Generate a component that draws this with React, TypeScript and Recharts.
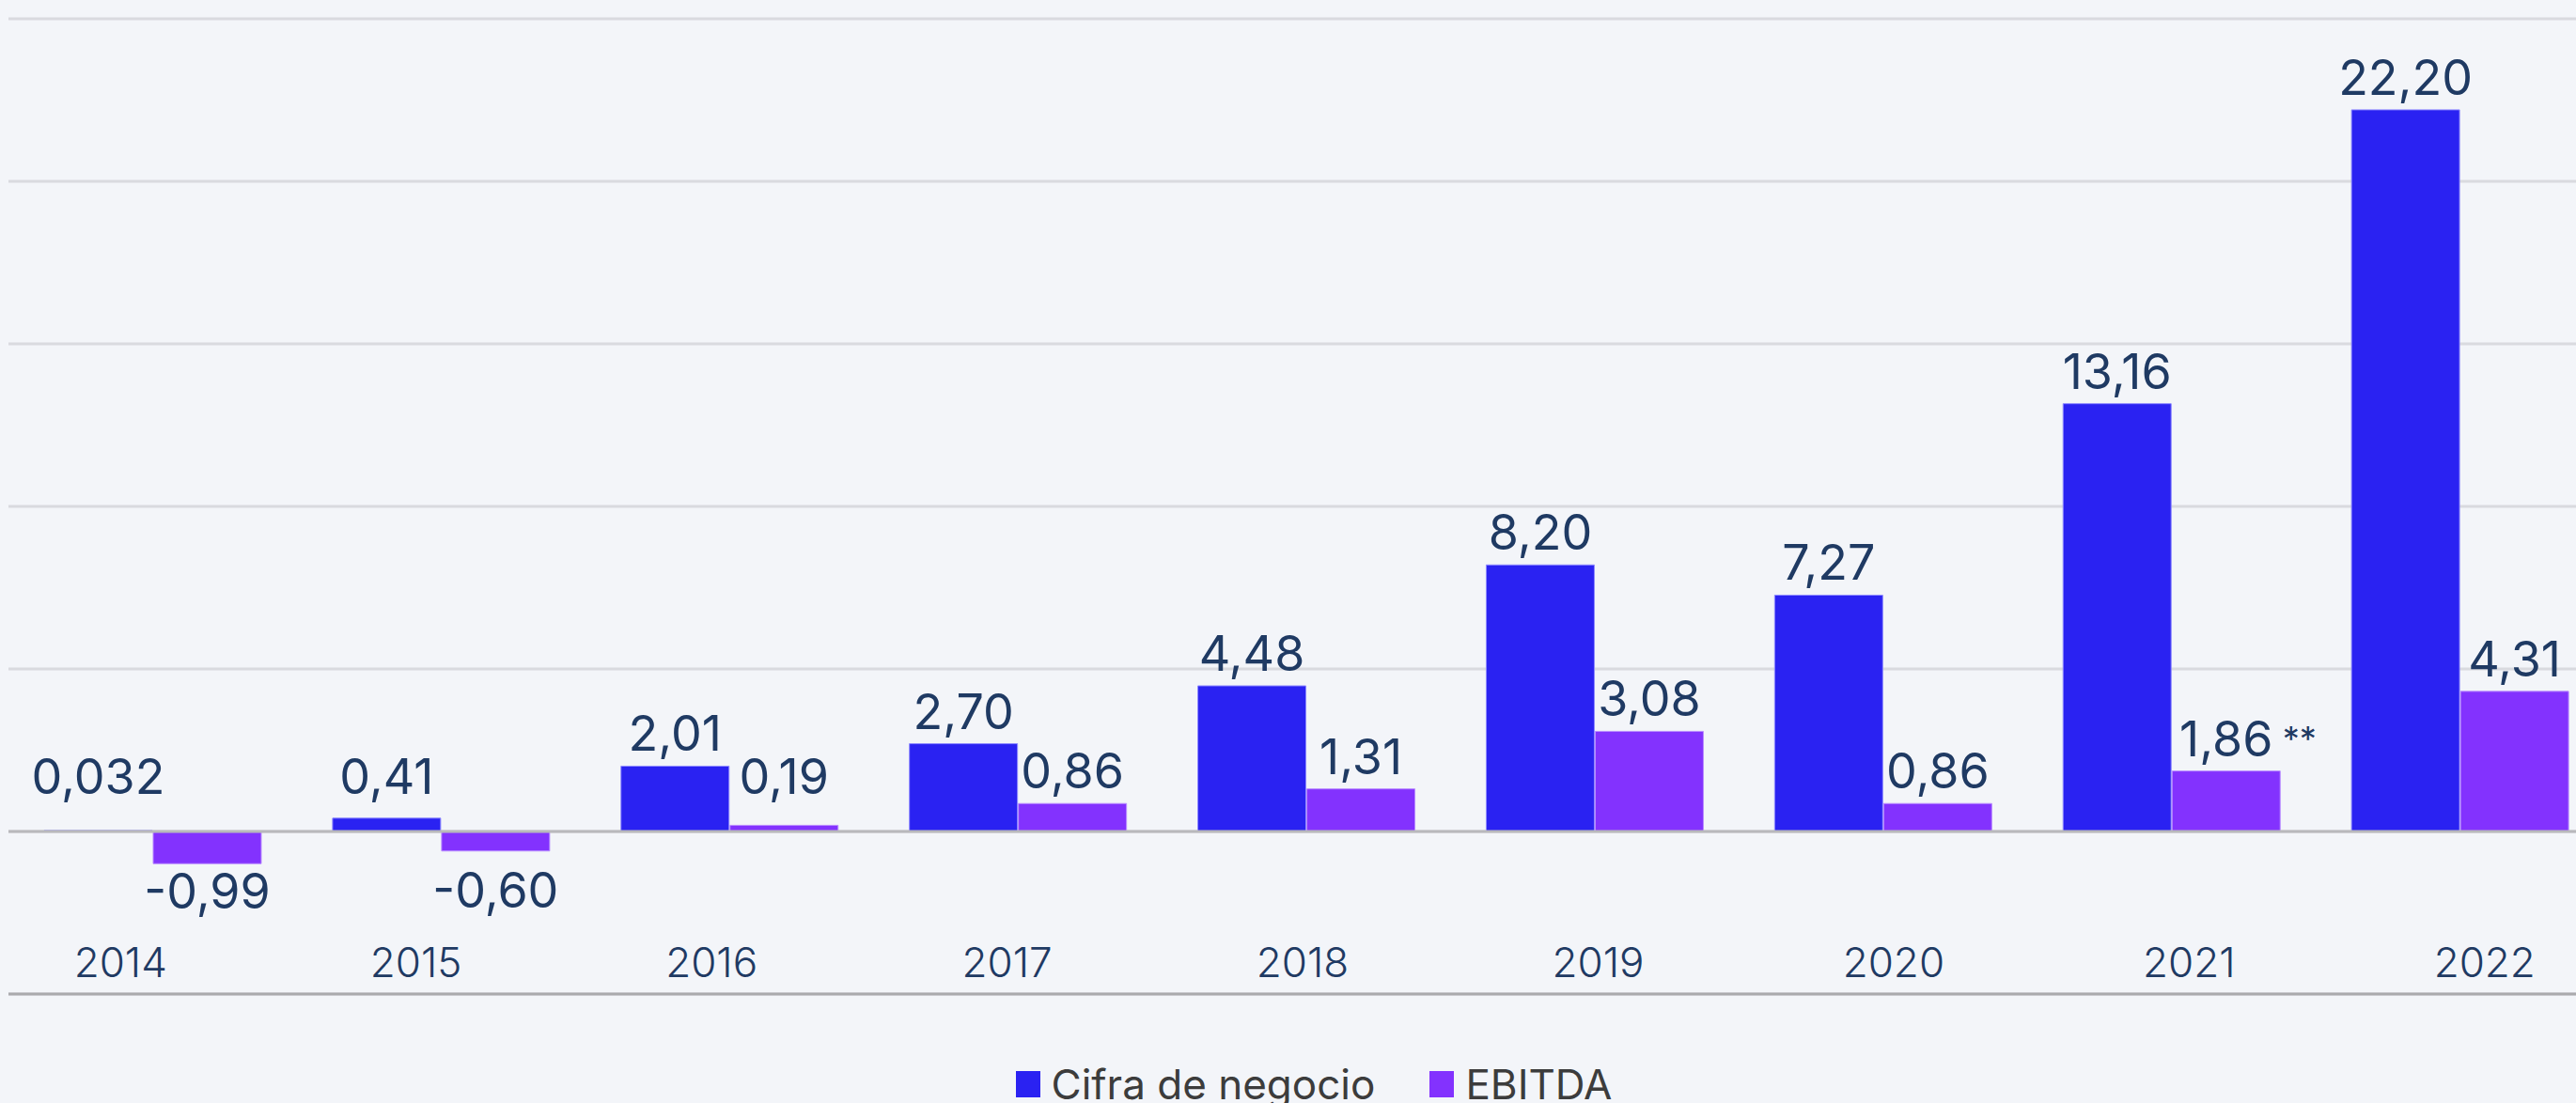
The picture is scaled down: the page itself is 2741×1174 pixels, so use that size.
import React from "react";
import {
  BarChart,
  Bar,
  XAxis,
  YAxis,
  CartesianGrid,
  ReferenceLine,
  Legend,
} from "recharts";

const years = ["2014", "2015", "2016", "2017", "2018", "2019", "2020", "2021", "2022"];
const cifraNegocio = [0.032, 0.41, 2.01, 2.7, 4.48, 8.2, 7.27, 13.16, 22.2];
const ebitda = [-0.99, -0.6, 0.19, 0.86, 1.31, 3.08, 0.86, 1.86, 4.31];
const ebitdaNotes = ["", "", "", "", "", "", "", "**", ""];
const yTicks = [-5, 0, 5, 10, 15, 20, 25];

const BLUE = "#2a22f2";
const PURPLE = "#8332fe";
const NAVY = "#1f3a63";
const FONT = "Inter, 'Open Sans', sans-serif";

const data = years.map((year, i) => ({
  year,
  cifra: cifraNegocio[i],
  ebitda: ebitda[i],
}));

const fmt = (v: number) =>
  (Math.abs(v) < 0.1 ? v.toFixed(3) : v.toFixed(2)).replace(".", ",");

// value labels: kept a bit clear of the zero line for small bars
const makeLabel = (values: number[], notes?: string[]) => (props: any) => {
  const vb = props.viewBox && props.viewBox.width !== undefined ? props.viewBox : props;
  const { x, y, width, height } = vb;
  const i = props.index;
  const v = values[i];
  const top = Math.min(y, y + height);
  const bottom = Math.max(y, y + height);
  const cx = x + width / 2;
  let baseline;
  if (v >= 0) {
    baseline = Math.min(top - 16, bottom - 40);
  } else {
    baseline = Math.max(bottom + 10, top + 43) + 38;
  }
  const note = notes ? notes[i] : "";
  return (
    <g>
      <text
        x={cx}
        y={baseline}
        textAnchor="middle"
        fill={NAVY}
        fontSize={52}
        fontFamily={FONT}
      >
        {fmt(v)}
      </text>
      {note && (
        <text
          x={cx + 60}
          y={baseline - 6}
          textAnchor="start"
          fill={NAVY}
          fontSize={36}
          fontFamily={FONT}
        >
          {note}
        </text>
      )}
    </g>
  );
};

const renderLegend = () => (
  <div
    style={{
      height: 116,
      width: "100%",
      display: "flex",
      justifyContent: "center",
      alignItems: "flex-start",
      paddingTop: 74,
      boxSizing: "border-box",
      fontFamily: FONT,
      fontSize: 44,
      color: "#3c3c3c",
    }}
  >
    {[
      { name: "Cifra de negocio", color: BLUE },
      { name: "EBITDA", color: PURPLE },
    ].map((item, idx) => (
      <div
        key={item.name}
        style={{
          display: "flex",
          alignItems: "center",
          height: 44,
          marginLeft: idx === 0 ? 0 : 58,
          whiteSpace: "nowrap",
        }}
      >
        <span
          style={{
            display: "inline-block",
            width: 26,
            height: 28,
            background: item.color,
            marginRight: 12,
          }}
        />
        <span>{item.name}</span>
      </div>
    ))}
  </div>
);

export default function App() {
  return (
    <div
      style={{
        position: "absolute",
        left: 0,
        top: 0,
        width: 2741,
        height: 1174,
        overflow: "hidden",
        background: "#f3f5f9",
      }}
    >
      <BarChart
        width={2796}
        height={1174}
        data={data}
        margin={{ top: 20, right: 25, left: 9, bottom: 0 }}
        barSize={115}
        barGap={1}
      >
        <CartesianGrid
          vertical={false}
          stroke="#d9dadf"
          strokeWidth={3}
        />
        <XAxis dataKey="year" hide />
        <XAxis
          xAxisId="lbl"
          dataKey="year"
          mirror
          padding={{ left: -38, right: -30 }}
          axisLine={{ stroke: "#aaaaad", strokeWidth: 3 }}
          tickLine={false}
          tickSize={0}
          tickMargin={18}
          interval={0}
          tick={{ fill: NAVY, fontSize: 44, fontWeight: 300, fontFamily: FONT }}
        />
        <YAxis hide domain={[-5, 25]} ticks={yTicks} />
        <ReferenceLine y={0} stroke="#b9b9bc" strokeWidth={3} />
        <Legend
          verticalAlign="bottom"
          content={renderLegend}
          wrapperStyle={{ left: 0, width: 2796 }}
        />
        <Bar
          dataKey="cifra"
          name="Cifra de negocio"
          fill={BLUE}
          stroke="#8f8bff"
          strokeWidth={1}
          isAnimationActive={false}
          label={makeLabel(cifraNegocio)}
        />
        <Bar
          dataKey="ebitda"
          name="EBITDA"
          fill={PURPLE}
          stroke="#b98cff"
          strokeWidth={1}
          isAnimationActive={false}
          label={makeLabel(ebitda, ebitdaNotes)}
        />
      </BarChart>
    </div>
  );
}
